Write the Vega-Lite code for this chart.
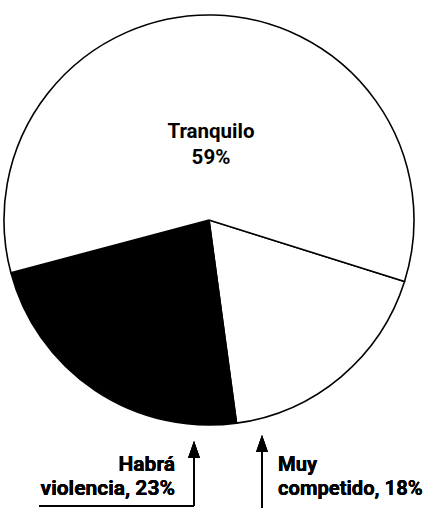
{
  "$schema": "https://vega.github.io/schema/vega-lite/v6.json",
  "width": 427,
  "height": 508,
  "autosize": {"type": "none"},
  "padding": 0,
  "background": "white",
  "config": {"view": {"stroke": null}, "text": {"font": "Roboto", "fontWeight": "bold", "fontSize": 21, "color": "#000000"}},
  "data": {"values": [
    {"category": "Muy competido", "pct": 18, "ord": 1, "inside": ""},
    {"category": "Habrá violencia", "pct": 23, "ord": 2, "inside": ""},
    {"category": "Tranquilo", "pct": 59, "ord": 3, "inside": ["Tranquilo", "59%"]}
  ]},
  "layer": [
    {
      "mark": {"type": "arc", "outerRadius": 205, "stroke": "#000000", "strokeWidth": 1.6},
      "encoding": {
        "x": {"datum": 209, "type": "quantitative", "scale": {"domain": [0, 427], "nice": false, "zero": false}, "axis": null},
        "y": {"datum": 220, "type": "quantitative", "scale": {"domain": [0, 508], "nice": false, "zero": false, "reverse": true}, "axis": null},
        "theta": {"field": "pct", "type": "quantitative", "stack": true, "scale": {"range": [1.876, 8.159]}},
        "order": {"field": "ord", "type": "quantitative"},
        "color": {"field": "category", "type": "nominal", "scale": {"domain": ["Tranquilo", "Muy competido", "Habrá violencia"], "range": ["#ffffff", "#ffffff", "#000000"]}, "legend": null}
      }
    },
    {
      "mark": {"type": "text", "radius": 88, "lineHeight": 26, "baseline": "middle", "align": "center", "fontSize": 20.5},
      "encoding": {
        "x": {"datum": 209, "type": "quantitative"},
        "y": {"datum": 220, "type": "quantitative"},
        "theta": {"field": "pct", "type": "quantitative", "stack": true},
        "order": {"field": "ord", "type": "quantitative"},
        "text": {"field": "inside"}
      }
    },
    {
      "mark": {"type": "text", "align": "right", "baseline": "alphabetic", "lineHeight": 24},
      "encoding": {
        "x": {"datum": 175, "type": "quantitative"},
        "y": {"datum": 471, "type": "quantitative"},
        "text": {"value": ["Habrá", "violencia, 23%"]}
      }
    },
    {
      "mark": {"type": "text", "align": "left", "baseline": "alphabetic", "lineHeight": 24, "fontSize": 20.2},
      "encoding": {
        "x": {"datum": 278, "type": "quantitative"},
        "y": {"datum": 471, "type": "quantitative"},
        "text": {"value": ["Muy", "competido, 18%"]}
      }
    },
    {
      "mark": {"type": "rule", "stroke": "#000000", "strokeWidth": 1.6},
      "encoding": {
        "x": {"datum": 39, "type": "quantitative"},
        "x2": {"datum": 194},
        "y": {"datum": 506, "type": "quantitative"}
      }
    },
    {
      "mark": {"type": "rule", "stroke": "#000000", "strokeWidth": 1.6},
      "encoding": {
        "x": {"datum": 194, "type": "quantitative"},
        "y": {"datum": 506, "type": "quantitative"},
        "y2": {"datum": 452}
      }
    },
    {
      "mark": {"type": "rule", "stroke": "#000000", "strokeWidth": 1.6},
      "encoding": {
        "x": {"datum": 262, "type": "quantitative"},
        "y": {"datum": 508, "type": "quantitative"},
        "y2": {"datum": 446}
      }
    },
    {
      "mark": {"type": "point", "shape": "M0,-1L0.7,1L-0.7,1Z", "filled": true, "color": "#000000", "size": 289, "opacity": 1},
      "encoding": {
        "x": {"datum": 194, "type": "quantitative"},
        "y": {"datum": 449.5, "type": "quantitative"}
      }
    },
    {
      "mark": {"type": "point", "shape": "M0,-1L0.7,1L-0.7,1Z", "filled": true, "color": "#000000", "size": 289, "opacity": 1},
      "encoding": {
        "x": {"datum": 262, "type": "quantitative"},
        "y": {"datum": 443.5, "type": "quantitative"}
      }
    }
  ]
}
